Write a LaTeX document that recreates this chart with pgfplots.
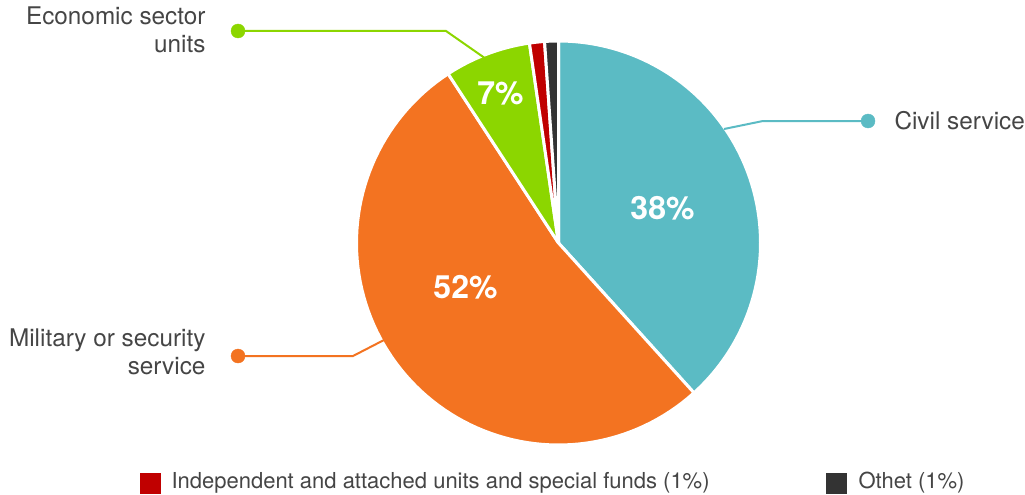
\documentclass[border=0pt]{standalone}
\usepackage{pgfplots}
\pgfplotsset{compat=1.18}
\usepackage{fontspec}
\setmainfont{TeX Gyre Heros}
\definecolor{cteal}{HTML}{5BBBC4}
\definecolor{corange}{HTML}{F37321}
\definecolor{cgreen}{HTML}{8CD600}
\definecolor{cred}{HTML}{C00000}
\definecolor{cdark}{HTML}{333333}
\definecolor{ctext}{HTML}{454545}
% shares in percent
\def\pCivil{38.3}
\def\pMil{52.5}
\def\pEco{6.9}
\def\pInd{1.2}
\def\pOth{1.1}
\pgfmathsetmacro\aA{90}
\pgfmathsetmacro\aB{\aA-3.6*\pCivil}
\pgfmathsetmacro\aC{\aB-3.6*\pMil}
\pgfmathsetmacro\aD{\aC-3.6*\pEco}
\pgfmathsetmacro\aE{\aD-3.6*\pInd}
\pgfmathsetmacro\aF{\aE-3.6*\pOth}
\def\cx{558.5}
\def\cy{243}
\def\rr{202}
\begin{document}
\begin{tikzpicture}
\begin{axis}[hide axis, scale only axis, width=1025pt, height=495pt,
  xmin=0, xmax=1025, ymin=0, ymax=495, y dir=reverse, clip=false,
  slice/.style={draw=white, line width=3pt, line join=round, samples=90, variable=\t}]
\addplot[slice, fill=cteal, domain=\aB:\aA] ({\cx+\rr*cos(\t)},{\cy-\rr*sin(\t)}) -- (\cx,\cy) -- cycle;
\addplot[slice, fill=corange, domain=\aC:\aB] ({\cx+\rr*cos(\t)},{\cy-\rr*sin(\t)}) -- (\cx,\cy) -- cycle;
\addplot[slice, fill=cgreen, domain=\aD:\aC] ({\cx+\rr*cos(\t)},{\cy-\rr*sin(\t)}) -- (\cx,\cy) -- cycle;
\addplot[slice, fill=cred, domain=\aE:\aD, samples=10] ({\cx+\rr*cos(\t)},{\cy-\rr*sin(\t)}) -- (\cx,\cy) -- cycle;
\addplot[slice, fill=cdark, domain=\aF:\aE, samples=10] ({\cx+\rr*cos(\t)},{\cy-\rr*sin(\t)}) -- (\cx,\cy) -- cycle;
% callout lines
\addplot[cteal, line width=2pt] coordinates {(724,129) (763,121) (868,121)};
\addplot[only marks, mark=*, mark size=7pt, cteal] coordinates {(868,121)};
\addplot[cgreen, line width=2pt] coordinates {(238,31) (446,31) (489,61)};
\addplot[only marks, mark=*, mark size=7pt, cgreen] coordinates {(238,31)};
\addplot[corange, line width=2pt] coordinates {(238,356) (353,356) (384,340)};
\addplot[only marks, mark=*, mark size=7pt, corange] coordinates {(238,356)};
% legend squares
\addplot[only marks, mark=square*, mark size=10pt, cred] coordinates {(150.5,483)};
\addplot[only marks, mark=square*, mark size=10pt, cdark] coordinates {(836.5,483)};
% labels
\node[text=white, font=\fontsize{32}{32}\selectfont\bfseries] at (axis cs:662.5,208) {38\%};
\node[text=white, font=\fontsize{32}{32}\selectfont\bfseries] at (axis cs:465.5,287.5) {52\%};
\node[text=white, font=\fontsize{32}{32}\selectfont\bfseries] at (axis cs:500.5,93.5) {7\%};
\node[anchor=west, text=ctext, font=\fontsize{24.3}{28}\selectfont] at (axis cs:891,121) {Civil service};
\node[anchor=east, align=right, text=ctext, font=\fontsize{24.3}{28}\selectfont] at (axis cs:209,30) {Economic sector\\units};
\node[anchor=east, align=right, text=ctext, font=\fontsize{24.3}{28}\selectfont] at (axis cs:209,352) {Military or security\\service};
\node[anchor=west, text=ctext, font=\fontsize{22}{24}\selectfont] at (axis cs:168,482.5) {Independent and attached units and special funds (1\%)};
\node[anchor=west, text=ctext, font=\fontsize{22}{24}\selectfont] at (axis cs:855,482.5) {Othet (1\%)};
\end{axis}
\pgfresetboundingbox
\path (0,0) rectangle (1025pt,495pt);
\end{tikzpicture}
\end{document}
